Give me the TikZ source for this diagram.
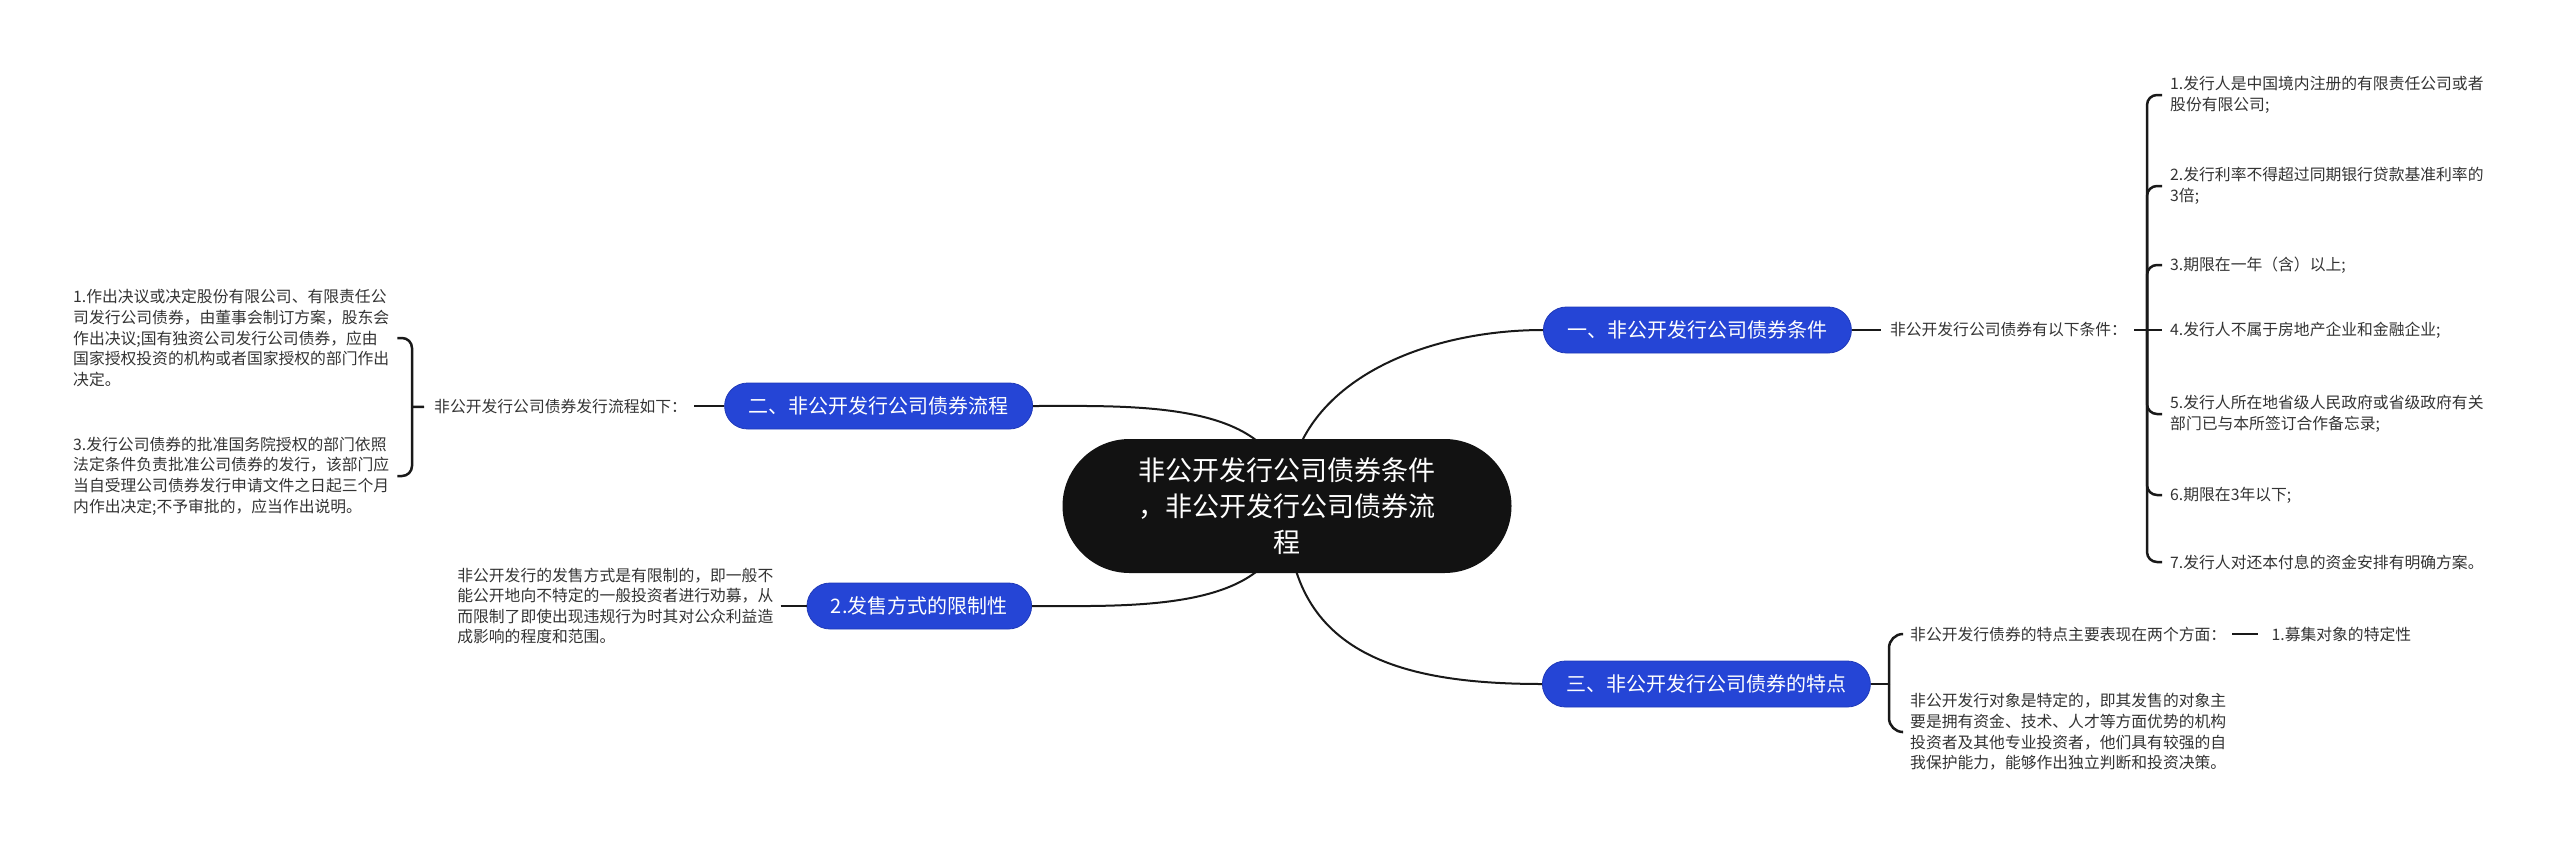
\documentclass[tikz,border=0pt]{standalone}
\usepackage{fontspec}
\setmainfont{Noto Sans CJK SC}
\usetikzlibrary{positioning,backgrounds}
\definecolor{rootblack}{HTML}{121212}
\definecolor{topicblue}{HTML}{2545D6}
\definecolor{topicedge}{HTML}{1F39B8}
\definecolor{leafgray}{HTML}{333333}
\begin{document}
\begin{tikzpicture}[x=1pt, y=-1pt, root/.style={fill=rootblack, text=white, rounded corners=67pt, minimum width=449pt, minimum height=134pt, align=center, font=\fontsize{27}{36}\selectfont}, topic/.style={fill=topicblue, draw=topicedge, line width=0.8pt, text=white, rounded corners=23pt, minimum height=46pt, inner xsep=24pt, font=\fontsize{20}{24}\selectfont}, leaf/.style={text=leafgray, align=left, inner sep=0pt, font=\fontsize{15.8}{20.6}\selectfont}, link/.style={line width=2pt, draw=black!90}, brace/.style={line width=2.5pt, draw=black!90, rounded corners=10pt}]
\useasboundingbox (0,0) rectangle (2560,849);
\node[root] (root) at (1287,506) {非公开发行公司债券条件\\，非公开发行公司债券流\\程};
\node[topic, anchor=west] (c1) at (1543,330) {一、非公开发行公司债券条件};
\node[topic, anchor=east] (c2) at (1033,406) {二、非公开发行公司债券流程};
\node[topic, anchor=east] (c3) at (1032,606) {2.发售方式的限制性};
\node[topic, anchor=west] (c4) at (1542,684) {三、非公开发行公司债券的特点};
\node[leaf, right=38pt of c1] (c1t) {非公开发行公司债券有以下条件：};
\node[leaf, anchor=west] (r1) at (2170,95) {1.发行人是中国境内注册的有限责任公司或者\\股份有限公司;};
\node[leaf, anchor=west] (r2) at (2170,186) {2.发行利率不得超过同期银行贷款基准利率的\\3倍;};
\node[leaf, anchor=west] (r3) at (2170,265) {3.期限在一年（含）以上;};
\node[leaf, anchor=west] (r4) at (2170,330) {4.发行人不属于房地产企业和金融企业;};
\node[leaf, anchor=west] (r5) at (2170,414) {5.发行人所在地省级人民政府或省级政府有关\\部门已与本所签订合作备忘录;};
\node[leaf, anchor=west] (r6) at (2170,495) {6.期限在3年以下;};
\node[leaf, anchor=west] (r7) at (2170,562) {7.发行人对还本付息的资金安排有明确方案。};
\node[leaf, left=37pt of c2] (c2t) {非公开发行公司债券发行流程如下：};
\node[leaf, anchor=west] (l1) at (73,338) {1.作出决议或决定股份有限公司、有限责任公\\司发行公司债券，由董事会制订方案，股东会\\作出决议;国有独资公司发行公司债券，应由\\国家授权投资的机构或者国家授权的部门作出\\决定。};
\node[leaf, anchor=west] (l2) at (73,476) {3.发行公司债券的批准国务院授权的部门依照\\法定条件负责批准公司债券的发行，该部门应\\当自受理公司债券发行申请文件之日起三个月\\内作出决定;不予审批的，应当作出说明。};
\node[leaf, left=33pt of c3] (c3t) {非公开发行的发售方式是有限制的，即一般不\\能公开地向不特定的一般投资者进行劝募，从\\而限制了即使出现违规行为时其对公众利益造\\成影响的程度和范围。};
\node[leaf, anchor=west] (d1) at (1910,634) {非公开发行债券的特点主要表现在两个方面：};
\node[leaf, right=45pt of d1] (d1a) {1.募集对象的特定性};
\node[leaf, anchor=west] (d2) at (1910,732) {非公开发行对象是特定的，即其发售的对象主\\要是拥有资金、技术、人才等方面优势的机构\\投资者及其他专业投资者，他们具有较强的自\\我保护能力，能够作出独立判断和投资决策。};
\coordinate (s1) at (2147,330);
\coordinate (s2) at (412,407);
\coordinate (s4) at (1889,684);
\begin{scope}[on background layer]
\draw[link] (root.center) to[out=90, in=180] (c1.west);
\draw[link] (root.center) to[out=-90, in=180, looseness=1.2] (c4.west);
\draw[link] (root.center) to[out=90, in=0] (c2.east);
\draw[link] (root.center) to[out=-90, in=0] (c3.east);
\end{scope}
\draw[link, shorten >=9pt] (c1) -- (c1t); \draw[link, shorten <=7pt] (c1t) -- (s1);
\draw[brace, shorten >=8pt] (s1) |- (r1.west); \draw[brace, shorten >=8pt] (s1) |- (r2.west); \draw[brace, shorten >=8pt] (s1) |- (r3.west); \draw[brace, shorten >=8pt] (s1) -- (r4.west);
\draw[brace, shorten >=8pt] (s1) |- (r5.west); \draw[brace, shorten >=8pt] (s1) |- (r6.west); \draw[brace, shorten >=8pt] (s1) |- (r7.west);
\draw[link, shorten <=7pt] (c2t) -- (c2); \draw[brace, shorten >=10pt] (s2) -- (c2t);
\draw[brace, shorten >=8pt] (s2) |- (l1.east); \draw[brace, shorten >=8pt] (s2) |- (l2.east);
\draw[link, shorten <=7pt] (c3t) -- (c3);
\draw[link] (c4) -- (s4);
\draw[brace, rounded corners=14pt, shorten >=8pt] (s4) |- (d1.west); \draw[brace, rounded corners=14pt, shorten >=8pt] (s4) |- (d2.west);
\draw[link, shorten <=6pt, shorten >=13pt] (d1) -- (d1a);
\end{tikzpicture}
\end{document}
